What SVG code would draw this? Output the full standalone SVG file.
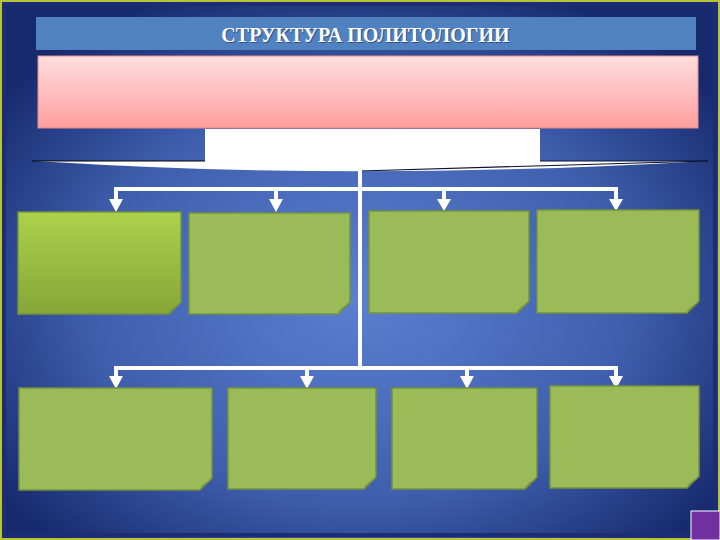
<svg xmlns="http://www.w3.org/2000/svg" width="720" height="540" viewBox="0 0 720 540">
<defs>
<radialGradient id="bg" cx="0.5" cy="0.55" r="0.62">
<stop offset="0" stop-color="#5b80d0"/>
<stop offset="0.6" stop-color="#3f5fae"/>
<stop offset="1" stop-color="#172a6e"/>
</radialGradient>
<linearGradient id="pink" x1="0" y1="0" x2="0" y2="1">
<stop offset="0" stop-color="#ffdede"/>
<stop offset="1" stop-color="#ff9e9e"/>
</linearGradient>
<linearGradient id="g1" x1="0" y1="0" x2="0" y2="1">
<stop offset="0" stop-color="#acd24c"/>
<stop offset="1" stop-color="#86a637"/>
</linearGradient>
<style>
.note{fill:#9bbb59;stroke:#76923c;stroke-width:1.5}
.curl{fill:#7f9c3a;stroke:#76923c;stroke-width:1}
.conn{fill:none;stroke:#ffffff;stroke-width:4}
.arr{fill:#ffffff}
</style>
</defs>
<rect x="0" y="0" width="720" height="540" fill="url(#bg)"/>
<rect x="1" y="1" width="718" height="538" fill="none" stroke="#b8c23a" stroke-width="2"/>
<rect x="4" y="4" width="711" height="531" fill="none" stroke="#1c2d72" stroke-width="4"/>

<g id="title">
<rect x="36" y="17" width="660" height="33" fill="#5081c0"/>
<text x="366.5" y="43" text-anchor="middle" font-family="Liberation Serif, serif" font-weight="bold" font-size="20" fill="#1f3050" opacity="0.6">СТРУКТУРА ПОЛИТОЛОГИИ</text>
<text x="365.5" y="42" text-anchor="middle" font-family="Liberation Serif, serif" font-weight="bold" font-size="20" fill="#ffffff">СТРУКТУРА ПОЛИТОЛОГИИ</text>
</g>

<g id="pinkbox">
<rect x="38" y="56" width="660" height="72" fill="url(#pink)" stroke="#e88a8a" stroke-width="1"/>
</g>

<g id="brace">
<path d="M36,161 L708,161 Q360,181 52,162 Z" fill="#ffffff"/>
<path d="M205,129 L540,129 L540,163 L205,163 Z" fill="#ffffff"/>
<path d="M32,161 L205,161" stroke="#000000" stroke-width="1.2" fill="none"/>
<path d="M360,171 Q540,166 708,161" stroke="#0a1030" stroke-width="1.2" fill="none"/>
<path d="M540,161 L708,161" stroke="#0a1030" stroke-width="1" fill="none"/>
</g>

<g id="connectors">
<path class="conn" d="M360,170 L360,366"/>
<path class="conn" d="M116,201 L116,189 L616,189 L616,201"/>
<path class="conn" d="M276,189 L276,201"/>
<path class="conn" d="M444,189 L444,201"/>
<path class="arr" d="M109,199 L123,199 L116,212 Z"/>
<path class="arr" d="M269,199 L283,199 L276,212 Z"/>
<path class="arr" d="M437,199 L451,199 L444,211 Z"/>
<path class="arr" d="M609,199 L623,199 L616,211 Z"/>
<path class="conn" d="M116,379 L116,368 L616,368 L616,379"/>
<path class="conn" d="M307,368 L307,379"/>
<path class="conn" d="M467,368 L467,379"/>
<path class="arr" d="M109,376 L123,376 L116,389 Z"/>
<path class="arr" d="M300,376 L314,376 L307,389 Z"/>
<path class="arr" d="M460,376 L474,376 L467,389 Z"/>
<path class="arr" d="M609,376 L623,376 L616,389 Z"/>
</g>

<g id="box1">
<path d="M18,212 L181,212 L181,302 L169,314 L18,314 Z" fill="url(#g1)" stroke="#76923c" stroke-width="1.5"/>
<path class="curl" d="M169,314 L181,302 C178,308 172,306 169,314 Z"/>
</g>
<g id="box2">
<path class="note" d="M189,213 L350,213 L350,302 L338,314 L189,314 Z"/>
<path class="curl" d="M338,314 L350,302 C347,308 341,306 338,314 Z"/>
</g>
<g id="box3">
<path class="note" d="M369,211 L529,211 L529,301 L517,313 L369,313 Z"/>
<path class="curl" d="M517,313 L529,301 C526,307 520,305 517,313 Z"/>
</g>
<g id="box4">
<path class="note" d="M537,210 L699,210 L699,301 L687,313 L537,313 Z"/>
<path class="curl" d="M687,313 L699,301 C696,307 690,305 687,313 Z"/>
</g>
<g id="box5">
<path class="note" d="M19,388 L212,388 L212,478 L200,490 L19,490 Z"/>
<path class="curl" d="M200,490 L212,478 C209,484 203,482 200,490 Z"/>
</g>
<g id="box6">
<path class="note" d="M228,388 L376,388 L376,477 L364,489 L228,489 Z"/>
<path class="curl" d="M364,489 L376,477 C373,483 367,481 364,489 Z"/>
</g>
<g id="box7">
<path class="note" d="M392,388 L537,388 L537,477 L525,489 L392,489 Z"/>
<path class="curl" d="M525,489 L537,477 C534,483 528,481 525,489 Z"/>
</g>
<g id="box8">
<path class="note" d="M550,386 L699,386 L699,476 L687,488 L550,488 Z"/>
<path class="curl" d="M687,488 L699,476 C696,482 690,480 687,488 Z"/>
</g>

<g id="corner">
<rect x="691" y="511" width="29" height="29" fill="#7030a0" stroke="#ffffff" stroke-width="1"/>
</g>
</svg>
